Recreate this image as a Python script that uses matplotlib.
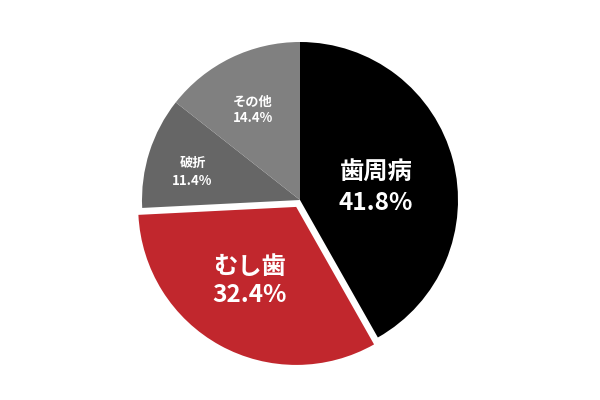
import numpy as np
import matplotlib
matplotlib.use("Agg")
import matplotlib.pyplot as plt

plt.rcParams['font.family'] = ['Noto Sans CJK JP', 'DejaVu Sans']

# data
labels = ["歯周病", "むし歯", "破折", "その他"]
shares = [41.8, 32.4, 11.4, 14.4]
colors = ["#000000", "#c1272d", "#666666", "#808080"]
explode = [0, 0.05, 0, 0]

# label placement (radius units) and text sizes
label_pos = [(0.48, 0.08), (-0.32, -0.51), (-0.68, 0.18), (-0.30, 0.57)]
label_size = [17.5, 17.5, 9.5, 9.5]
line_gap = [0.098, 0.089, 0.057, 0.054]

fig = plt.figure(figsize=(6, 4), dpi=100)
ax = fig.add_axes([0, 0, 1, 1])
r = 158.0
wedges, _ = ax.pie(shares, colors=colors, explode=explode, startangle=90,
                   counterclock=False, radius=1.0,
                   wedgeprops=dict(linewidth=0))
ax.set_xlim(-300 / r, 300 / r)
ax.set_ylim(-200 / r, 200 / r)
ax.set_aspect('equal')
ax.axis('off')

for name, val, (x, y), fs, g in zip(labels, shares, label_pos, label_size, line_gap):
    ax.text(x, y + g, name, color="white", fontsize=fs, fontweight="bold",
            ha="center", va="center")
    ax.text(x, y - g, "%.1f%%" % val, color="white", fontsize=fs, fontweight="bold",
            ha="center", va="center")

fig.savefig("out.png", dpi=100, facecolor="white")
